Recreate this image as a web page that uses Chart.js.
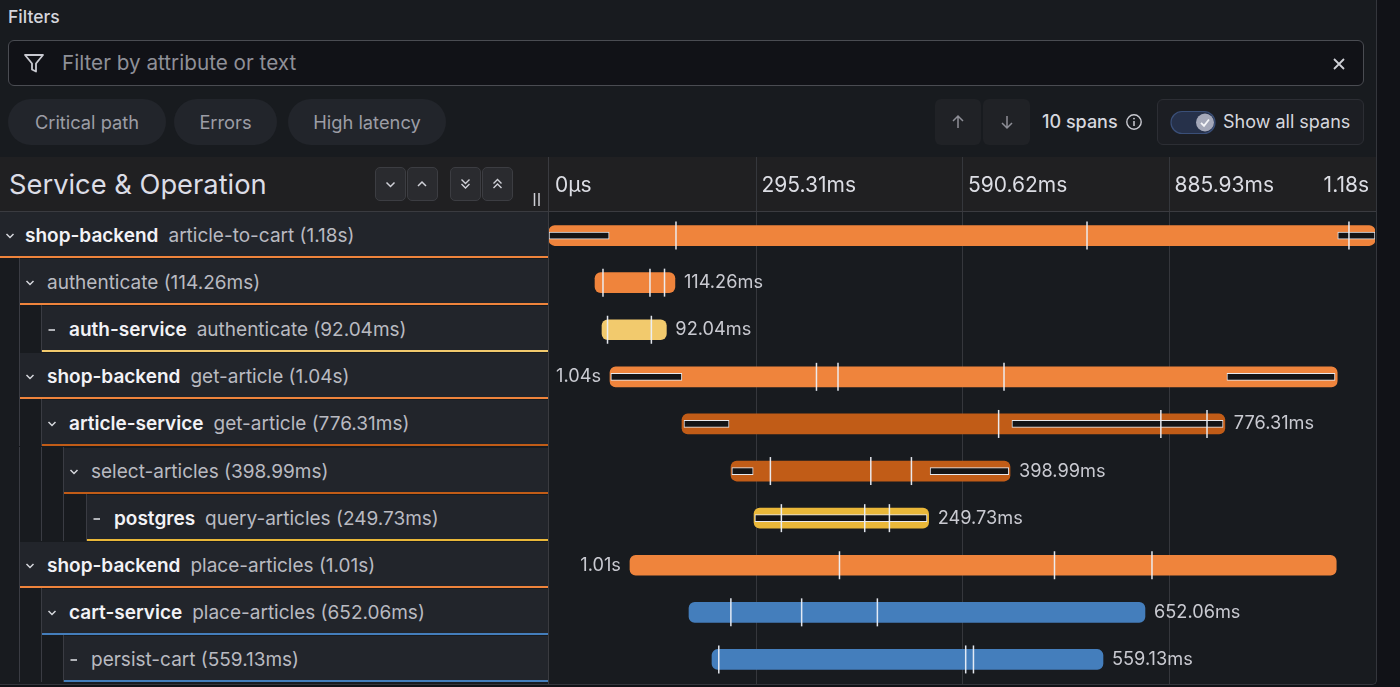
<!DOCTYPE html>
<html><head><meta charset="utf-8">
<script src="https://cdn.jsdelivr.net/npm/chart.js@4.4.1/dist/chart.umd.min.js"></script>
<style>
html,body{margin:0;padding:0;}
body{width:1400px;height:687px;overflow:hidden;background:#111217;font-family:Inter,"Noto Sans",sans-serif;position:relative;}
#panel{position:absolute;left:0;top:0;width:1376px;height:684px;background:#181b1f;border-right:1px solid #34363c;border-bottom:1px solid #34363c;border-bottom-right-radius:5px;overflow:hidden;}
.a{position:absolute;}
.pill{position:absolute;top:99px;height:46px;border-radius:23px;background:#22252b;color:#9c9da5;font-size:18.3px;line-height:46px;text-align:center;}
.sq{position:absolute;top:99px;height:46px;border-radius:6px;background:#202226;}
.hb{position:absolute;top:167px;width:29px;height:32px;border:1px solid #3c3d42;border-radius:5px;background:#2a2b2f;}
.row{position:absolute;background:#22252b;box-sizing:border-box;border-bottom:2px solid;}
.txt{position:absolute;white-space:nowrap;font-size:19px;line-height:22px;}
.svc{color:#f2f2f6;font-weight:600;margin-right:10px;}
.op{color:#b9bac1;}
.guide{position:absolute;width:1px;background:#3a3c43;}
</style></head>
<body>
<div id="panel">
  <div class="a" style="left:8px;top:6px;font-size:17.5px;font-weight:500;color:#d4d5dc;">Filters</div>
  <div class="a" style="left:8px;top:40px;width:1356px;height:46px;box-sizing:border-box;border:1px solid #4a4c52;border-radius:6px;background:#111217;"></div>
  <svg class="a" style="left:23px;top:52px" width="22" height="22" viewBox="0 0 22 22"><path d="M2 3 H20 L13 11.5 V19.5 L9 17.5 V11.5 Z" fill="none" stroke="#c9cad1" stroke-width="1.8" stroke-linejoin="round"/></svg>
  <div class="a" style="left:62px;top:50px;font-size:20.7px;line-height:26px;color:#8f9098;">Filter by attribute or text</div>
  <svg class="a" style="left:1332px;top:57px" width="14" height="14"><path d="M2 2 L12 12 M12 2 L2 12" stroke="#cfd0d6" stroke-width="1.8"/></svg>

  <div class="pill" style="left:8px;width:158px;">Critical path</div>
  <div class="pill" style="left:174px;width:103px;">Errors</div>
  <div class="pill" style="left:288px;width:158px;">High latency</div>

  <div class="sq" style="left:935px;width:46px;"></div>
  <div class="sq" style="left:983px;width:47px;"></div>
  <svg class="a" style="left:950px;top:114px" width="16" height="16"><path d="M8 2 V14 M3 7 L8 2 L13 7" fill="none" stroke="#8e8f97" stroke-width="1.5"/></svg>
  <svg class="a" style="left:999px;top:114px" width="16" height="16"><path d="M8 2 V14 M3 9 L8 14 L13 9" fill="none" stroke="#8e8f97" stroke-width="1.5"/></svg>
  <div class="a" style="left:1042px;top:110px;font-size:18px;line-height:24px;font-weight:500;color:#d6d7de;">10 spans</div>
  <svg class="a" style="left:1125px;top:113px" width="18" height="18"><circle cx="9" cy="9" r="7.2" fill="none" stroke="#c9cad1" stroke-width="1.4"/><path d="M9 8 V13" stroke="#c9cad1" stroke-width="1.5"/><circle cx="9" cy="5.6" r="0.9" fill="#c9cad1"/></svg>
  <div class="a" style="left:1157px;top:99px;width:207px;height:46px;box-sizing:border-box;border:1px solid #2c2e34;border-radius:6px;background:#1c1e23;"></div>
  <svg class="a" style="left:1170px;top:110px" width="48" height="26"><rect x="1" y="1.5" width="44" height="22" rx="11" fill="#26314a" stroke="#3a4f78" stroke-width="1.2"/><circle cx="35" cy="12.5" r="9" fill="#a4a8b9"/><path d="M31 12.8 L34 15.8 L39 9.5" fill="none" stroke="#f4f5f8" stroke-width="1.8"/></svg>
  <div class="a" style="left:1223px;top:110px;font-size:18px;line-height:24px;color:#d6d7de;">Show all spans</div>

  <div class="a" style="left:0;top:157px;width:548px;height:54px;background:#202022;"></div>
  <div class="a" style="left:9px;top:169px;font-size:27.3px;line-height:32px;color:#dcdde6;">Service &amp; Operation</div>
  <div class="hb" style="left:375px;"></div>
  <div class="hb" style="left:407px;"></div>
  <div class="hb" style="left:450px;"></div>
  <div class="hb" style="left:482px;"></div>
  <svg class="a" style="left:375px;top:167px" width="140" height="34">
    <path d="M11.5 15.5 L15.5 19.5 L19.5 15.5" fill="none" stroke="#d0d1d8" stroke-width="1.5"/>
    <path d="M43 19 L47 15 L51 19" fill="none" stroke="#d0d1d8" stroke-width="1.5"/>
    <path d="M86.5 12.5 L90.5 16.5 L94.5 12.5 M86.5 17 L90.5 21 L94.5 17" fill="none" stroke="#d0d1d8" stroke-width="1.4"/>
    <path d="M118.5 16.5 L122.5 12.5 L126.5 16.5 M118.5 21 L122.5 17 L126.5 21" fill="none" stroke="#d0d1d8" stroke-width="1.4"/>
  </svg>
  <svg class="a" style="left:532px;top:192px" width="10" height="16"><path d="M2.5 1 V14 M7 1 V14" stroke="#cfd0d6" stroke-width="1.5"/></svg>

  <div class="a" style="left:0;top:211px;width:1376px;height:1px;background:#3a3b40;"></div>
  <div class="a" style="left:548px;top:157px;width:1px;height:530px;background:#3a3b40;"></div>
  <div id="tree"></div>
  <div class="a" style="left:549px;top:157px;width:827px;height:527px;">
    <canvas id="c" width="827" height="527"></canvas>
  </div>
</div>
<script>
// ---- data ----
const services = ['shop-backend','shop-backend','auth-service','shop-backend','article-service','article-service','postgres','shop-backend','cart-service','cart-service'];
const operations = ['article-to-cart','authenticate','authenticate','get-article','get-article','select-articles','query-articles','place-articles','place-articles','persist-cart'];
const depths = [0,1,2,1,2,3,4,1,2,3];
const showService = [true,false,true,true,true,false,true,true,true,false];
const startMs = [0,65.8,75.8,87.2,190.2,260.3,293.2,115.8,200.2,233.1];
const durationMs = [1181.24,114.26,92.04,1040,776.31,398.99,249.73,1010,652.06,559.13];
const durationText = ['1.18s','114.26ms','92.04ms','1.04s','776.31ms','398.99ms','249.73ms','1.01s','652.06ms','559.13ms'];
const criticalA = [[0,86],null,null,[88.5,190],[193,257.5],[261.5,292],[294.5,540.5],null,null,null];
const criticalB = [[1128,1181.24],null,null,[969.5,1124],[662,964],[545,657.5],null,null,null,null];
const events = [
  [181.6,769.4,1144],
  [77.2,144.4,165.2],
  [83.7,146.4],
  [382.5,413.3,650.7],
  [643,875,941],
  [316.6,460.2,518.3],
  [332.3,451.5,486.8],
  [415.4,722.9,862.3],
  [260.1,361.3,469.6],
  [242.8,595.9,607.0]
];
const tickValues = [0,295.31,590.62,885.93,1181.24];
const tickLabels = ['0µs','295.31ms','590.62ms','885.93ms','1.18s'];

// ---- styles ----
const serviceColor = {'shop-backend':'#EF843C','auth-service':'#F2CA6D','article-service':'#C15C17','postgres':'#EAB839','cart-service':'#447EBC'};
const indents = [0,20,42,64,87];
const ROW_TOP = 211, ROW_H = 47.1;

// ---- tree (left panel) ----
const tree = document.getElementById('tree');
const rowKeys = services.map((s,i)=>s+' '+operations[i]);
for (let i=0;i<services.length;i++){
  const d = depths[i];
  const top = ROW_TOP + i*ROW_H;
  for (let k=1;k<=d;k++){
    const g = document.createElement('div');
    g.className='guide';
    g.style.left=(indents[k]-1)+'px'; g.style.top=top+'px'; g.style.height=ROW_H+'px';
    tree.appendChild(g);
  }
  const r = document.createElement('div');
  r.className='row';
  r.style.left=indents[d]+'px'; r.style.width=(548-indents[d])+'px';
  r.style.top=(top+1)+'px'; r.style.height='46px';
  r.style.borderBottomColor=serviceColor[services[i]];
  tree.appendChild(r);
  const leaf = (i===services.length-1) || depths[i+1]<=d;
  const ic = document.createElementNS('http://www.w3.org/2000/svg','svg');
  ic.setAttribute('width','12'); ic.setAttribute('height','10');
  ic.style.position='absolute'; ic.style.left=(indents[d]+4)+'px'; ic.style.top=(top+20)+'px';
  ic.innerHTML = leaf ? '<path d="M2.5 5 L9 5" stroke="#d6d7dd" stroke-width="1.6"/>'
                      : '<path d="M2.5 3 L6 6.5 L9.5 3" fill="none" stroke="#d6d7dd" stroke-width="1.5"/>';
  tree.appendChild(ic);
  const t = document.createElement('div');
  t.className='txt';
  t.style.left=(indents[d]+(d===0?25:27))+'px'; t.style.top=(top+14)+'px';
  t.innerHTML=(showService[i]?'<span class="svc">'+services[i]+'</span>':'')+'<span class="op">'+operations[i]+' ('+durationText[i]+')</span>';
  tree.appendChild(t);
}

// ---- chart ----
const barData = startMs.map((s,i)=>[s, s+durationMs[i]]);
const evData = [];
events.forEach((arr,i)=>arr.forEach(v=>evData.push({x:v,y:rowKeys[i]})));

const headerPlugin = {
  id:'header',
  beforeDraw(chart){
    const {ctx, chartArea, scales:{x}} = chart;
    ctx.save();
    ctx.fillStyle='#202022';
    ctx.fillRect(0,0,chart.width,54);
    ctx.strokeStyle='#35373c'; ctx.lineWidth=1;
    tickValues.forEach((v,i)=>{
      if(i===0||i===tickValues.length-1) return;
      const px=Math.round(x.getPixelForValue(v))+0.5;
      ctx.beginPath(); ctx.moveTo(px,0); ctx.lineTo(px,chart.height); ctx.stroke();
    });
    ctx.fillStyle='#3a3b40';
    ctx.fillRect(0,54,chart.width,1);
    ctx.font='21px Inter, "Noto Sans", sans-serif';
    ctx.fillStyle='#dcdde4';
    ctx.textBaseline='middle';
    tickValues.forEach((v,i)=>{
      const px=x.getPixelForValue(v);
      if(i===tickValues.length-1){ctx.textAlign='right';ctx.fillText(tickLabels[i],px-6,29);}
      else {ctx.textAlign='left';ctx.fillText(tickLabels[i],px+6,29);}
    });
    ctx.restore();
  },
  afterDatasetsDraw(chart){
    const {ctx, chartArea, scales:{x,y}} = chart;
    ctx.save();
    ctx.font='18.2px Inter, "Noto Sans", sans-serif';
    ctx.fillStyle='#c9cad1';
    ctx.textBaseline='middle';
    barData.forEach((b,i)=>{
      const w=ctx.measureText(durationText[i]).width;
      const x0=x.getPixelForValue(b[0]), x1=x.getPixelForValue(b[1]);
      const yy=y.getPixelForValue(i);
      if(x1+9+w < chartArea.right){ctx.textAlign='left';ctx.fillText(durationText[i],x1+9,yy);}
      else if(x0-9-w > chartArea.left){ctx.textAlign='right';ctx.fillText(durationText[i],x0-9,yy);}
    });
    ctx.restore();
  }
};

new Chart(document.getElementById('c'),{
  type:'bar',
  data:{
    labels:rowKeys,
    datasets:[
      {type:'scatter',data:evData,xAxisID:'x',yAxisID:'y',order:0,pointStyle:'line',rotation:90,radius:14,hoverRadius:14,borderColor:'rgba(236,240,248,0.95)',backgroundColor:'rgba(236,240,248,0.95)',borderWidth:1.5,clip:false},
      {data:criticalA,order:1,grouped:false,barThickness:7,backgroundColor:'#141416',borderColor:'#e8e8ec',borderWidth:1,borderSkipped:false},
      {data:criticalB,order:1,grouped:false,barThickness:7,backgroundColor:'#141416',borderColor:'#e8e8ec',borderWidth:1,borderSkipped:false},
      {data:barData,order:2,grouped:false,barThickness:20,borderRadius:6,borderSkipped:false,
        backgroundColor:services.map(s=>serviceColor[s])}
    ]
  },
  options:{
    indexAxis:'y',
    responsive:false,
    animation:false,
    devicePixelRatio:1,
    layout:{autoPadding:false,padding:{top:55,bottom:1,left:0,right:1}},
    plugins:{legend:{display:false},tooltip:{enabled:false}},
    scales:{
      x:{type:'linear',min:0,max:1181.24,display:false},
      y:{type:'category',display:false,offset:true}
    }
  },
  plugins:[headerPlugin]
});
</script>
</body></html>
